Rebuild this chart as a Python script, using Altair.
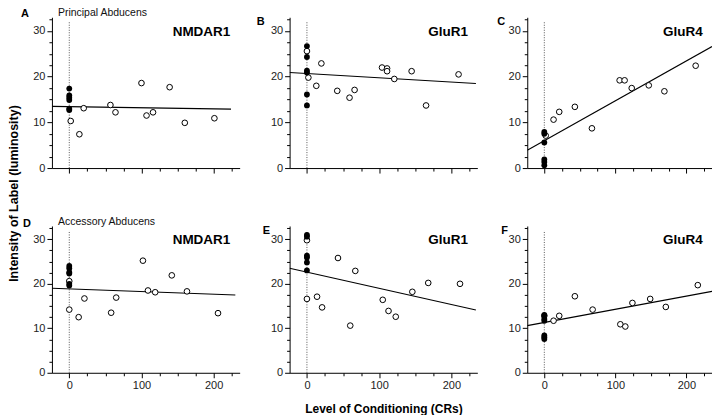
import altair as alt
import pandas as pd

# ---------------- data ----------------
panel_keys = ["A", "B", "C", "D", "E", "F"]
receptors = ["NMDAR1", "GluR1", "GluR4", "NMDAR1", "GluR1", "GluR4"]
regions = ["Principal Abducens", "", "", "Accessory Abducens", "", ""]

# controls (filled circles, all at 0 CRs)
ctrl_A = [17.4, 15.9, 15.4, 14.9, 13.0, 12.7]
ctrl_B = [26.7, 24.3, 21.3, 20.9, 16.1, 13.7]
ctrl_C = [7.9, 7.5, 5.6, 1.9, 1.3, 0.6]
ctrl_D = [24.0, 23.5, 22.6, 22.3, 20.0, 19.6]
ctrl_E = [31.0, 30.6, 26.3, 25.9, 24.8, 23.0]
ctrl_F = [13.0, 12.1, 11.7, 8.4, 8.0, 7.6]

# conditioned animals (open circles)
cond_A_x = [2, 14, 20, 57, 64, 100, 107, 116, 139, 160, 201]
cond_A_y = [10.3, 7.4, 13.1, 13.8, 12.2, 18.6, 11.5, 12.2, 17.7, 9.9, 10.9]
cond_B_x = [0, 2, 13, 20, 42, 59, 66, 104, 111, 111, 121, 145, 165, 210]
cond_B_y = [25.6, 19.8, 18.0, 22.9, 16.9, 15.4, 17.1, 22.0, 21.8, 21.2, 19.5, 21.2, 13.7, 20.5]
cond_C_x = [2, 13, 21, 43, 67, 106, 113, 123, 147, 169, 213]
cond_C_y = [7.1, 10.6, 12.3, 13.4, 8.7, 19.2, 19.2, 17.5, 18.1, 16.8, 22.4]
cond_D_x = [0, 0, 13, 21, 58, 65, 102, 109, 119, 142, 163, 206]
cond_D_y = [20.6, 14.2, 12.5, 16.7, 13.5, 16.9, 25.2, 18.5, 18.1, 21.9, 18.3, 13.4]
cond_E_x = [0, 0, 14, 21, 43, 60, 67, 105, 113, 123, 146, 168, 212]
cond_E_y = [29.8, 16.6, 17.1, 14.7, 25.8, 10.6, 22.9, 16.4, 13.9, 12.6, 18.2, 20.2, 20.0]
cond_F_x = [0, 13, 21, 43, 68, 107, 114, 124, 149, 171, 216]
cond_F_y = [12.8, 11.7, 12.8, 17.2, 14.2, 10.9, 10.4, 15.7, 16.6, 14.8, 19.7]

# regression lines (end points)
fit_x_left = [-24, -24, -24, -24, -24, -24]
fit_y_left = [13.5, 20.9, 3.9, 19.0, 23.5, 10.6]
fit_x_right = [224, 234, 236, 230, 234, 236]
fit_y_right = [12.9, 18.5, 26.6, 17.5, 14.1, 18.3]

x_ticks = [0, 25, 50, 75, 100, 125, 150, 175, 200, 225]
y_ticks = [0, 2.5, 5, 7.5, 10, 12.5, 15, 17.5, 20, 22.5, 25, 27.5, 30, 32.5]

ctrl = [ctrl_A, ctrl_B, ctrl_C, ctrl_D, ctrl_E, ctrl_F]
cond_x = [cond_A_x, cond_B_x, cond_C_x, cond_D_x, cond_E_x, cond_F_x]
cond_y = [cond_A_y, cond_B_y, cond_C_y, cond_D_y, cond_E_y, cond_F_y]

X_DOMAIN = [-24, 236]
Y_DOMAIN = [0, 33]
FONT = "Liberation Sans"

# layout (pixels)
widths = [188, 188, 185, 188, 188, 185]
heights = [151, 151, 151, 147, 147, 147]
letter_pos = [(-31, -9), (-33, -1), (-30, -1), (-29, -8), (-27, -1), (-26, -1)]


def make_panel(i):
    w, h = widths[i], heights[i]
    bottom = i >= 3
    xs = alt.Scale(domain=X_DOMAIN, nice=False, zero=False)
    ys = alt.Scale(domain=Y_DOMAIN, nice=False, zero=False)
    x_axis_kw = dict(
        values=x_ticks,
        labels=bottom,
        labelExpr="datum.value % 100 === 0 ? datum.label : ''",
        tickSize={"condition": {"test": "datum.value % 100 === 0", "value": 5}, "value": 3},
        grid=False,
        title="Level of Conditioning (CRs)" if i == 4 else None,
    )
    if i == 4:
        x_axis_kw.update(titleFontSize=12, titleFontWeight="bold", titlePadding=13)
    y_axis_kw = dict(
        values=y_ticks,
        labelExpr="datum.value % 10 === 0 ? datum.label : ''",
        tickSize={"condition": {"test": "datum.value % 10 === 0", "value": 5}, "value": 3},
        grid=False,
        title="Intensity of Label (luminosity)" if i == 0 else None,
    )
    if i == 0:
        y_axis_kw.update(titleFontSize=12.5, titleFontWeight="bold", titleAngle=270,
                         titleX=-31, titleY=176, titleAlign="center", titleBaseline="bottom")
    xa = alt.Axis(**x_axis_kw)
    ya = alt.Axis(**y_axis_kw)

    def X(f):
        return alt.X(f, scale=xs, axis=xa)

    def Y(f):
        return alt.Y(f, scale=ys, axis=ya)

    zero_df = pd.DataFrame({"x": [0], "y": [0], "y2": [32]})
    fit_df = pd.DataFrame({"x": [fit_x_left[i]], "y": [fit_y_left[i]],
                           "x2": [fit_x_right[i]], "y2": [fit_y_right[i]]})
    open_df = pd.DataFrame({"x": cond_x[i], "y": cond_y[i]})
    fill_df = pd.DataFrame({"x": [0] * len(ctrl[i]), "y": ctrl[i]})
    lab_df = pd.DataFrame({"letter": [panel_keys[i]], "gene": [receptors[i]],
                           "region": [regions[i]]})

    zero = alt.Chart(zero_df).mark_rule(color="#555", strokeWidth=1, strokeDash=[1, 1.5]).encode(
        x=X("x:Q"), y=Y("y:Q"), y2="y2:Q")
    fit = alt.Chart(fit_df).mark_rule(color="black", strokeWidth=1.1, clip=True).encode(
        x=X("x:Q"), y=Y("y:Q"), x2="x2:Q", y2="y2:Q")
    opn = alt.Chart(open_df).mark_point(shape="circle", filled=True, fill="white", stroke="black",
                                        strokeWidth=1, size=32, opacity=1).encode(
        x=X("x:Q"), y=Y("y:Q"))
    fil = alt.Chart(fill_df).mark_circle(color="black", size=34, opacity=1).encode(
        x=X("x:Q"), y=Y("y:Q"))

    gx = w * (223 - X_DOMAIN[0]) / (X_DOMAIN[1] - X_DOMAIN[0])
    gy = h * (1 - 29.8 / Y_DOMAIN[1])
    gene = alt.Chart(lab_df).mark_text(font=FONT, fontSize=13.5, fontWeight="bold", align="right",
                                       baseline="middle", color="black").encode(
        x=alt.value(gx), y=alt.value(gy), text="gene:N")
    lx, ly = letter_pos[i]
    letter = alt.Chart(lab_df).mark_text(font=FONT, fontSize=11, fontWeight="bold", align="left",
                                         baseline="top", color="black").encode(
        x=alt.value(lx), y=alt.value(ly), text="letter:N")
    layers = [zero, fit, opn, fil, gene, letter]
    if regions[i]:
        region = alt.Chart(lab_df).mark_text(font=FONT, fontSize=10.5, align="left",
                                             baseline="middle", color="#111").encode(
            x=alt.value(6), y=alt.value(-4), text="region:N")
        layers.append(region)
    return alt.layer(*layers).properties(width=w, height=h)


p = [make_panel(i) for i in range(6)]
chart = alt.concat(*p, columns=3, spacing={"row": 58, "column": 50}, bounds="flush").properties(
    padding={"left": 0, "top": 0, "right": 0, "bottom": 0}
).configure_view(stroke=None).configure_axis(
    domainColor="black", tickColor="black", domainWidth=1, tickWidth=1,
    labelFont=FONT, labelFontSize=11, labelColor="#222", labelPadding=2,
    titleFont=FONT, titleColor="black",
)

chart.save("out.html", embed_options={"renderer": "svg", "actions": False})
